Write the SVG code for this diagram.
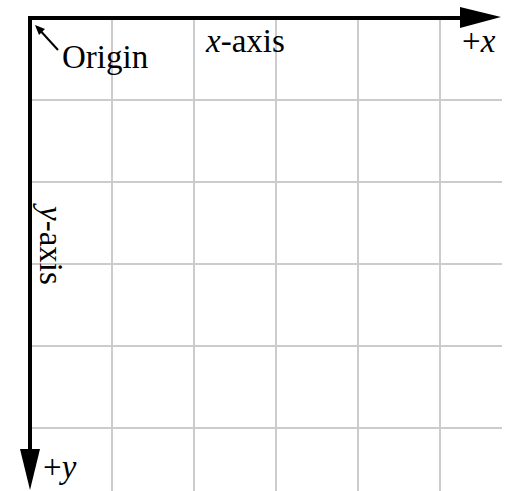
<svg xmlns="http://www.w3.org/2000/svg" width="512" height="491" viewBox="0 0 512 491">
<style>
.grid{stroke:#cccccc;stroke-width:2;fill:none}
.axis{stroke:#000;stroke-width:4;fill:none}
</style>
<rect width="512" height="491" fill="#fff"/>
<g id="grid" class="grid">
<path d="M112,18V491M194,18V491M276,18V491M358,18V491M440,18V491"/>
<path d="M30,100H502M30,182H502M30,264H502M30,346H502M30,428H502"/>
</g>
<g id="connectors">
<path class="axis" d="M28,18H462"/>
<path d="M460,7L501,17L460,28Z" fill="#000"/>
<path class="axis" d="M30,16V452"/>
<path d="M20,449L30,490L40,449Z" fill="#000"/>
<path d="M37,27L58,50" stroke="#000" stroke-width="2"/>
<path d="M35,25L45,29L39,35Z" fill="#000"/>
</g>
<g id="origin"><text x="62" y="68" font-size="33" font-family="'Liberation Serif'">Origin</text></g>
<g id="xaxis"><text x="206" y="52" font-size="33" font-family="'Liberation Serif'"><tspan font-style="italic">x</tspan>-axis</text></g>
<g id="plusx"><text x="462" y="52" font-size="33" font-family="'Liberation Serif'">+<tspan font-style="italic">x</tspan></text></g>
<g id="yaxis"><text transform="translate(40,206) rotate(90)" font-size="33" font-family="'Liberation Serif'"><tspan font-style="italic">y</tspan>-axis</text></g>
<g id="plusy"><text x="43" y="478" font-size="33" font-family="'Liberation Serif'">+<tspan font-style="italic">y</tspan></text></g>
</svg>
